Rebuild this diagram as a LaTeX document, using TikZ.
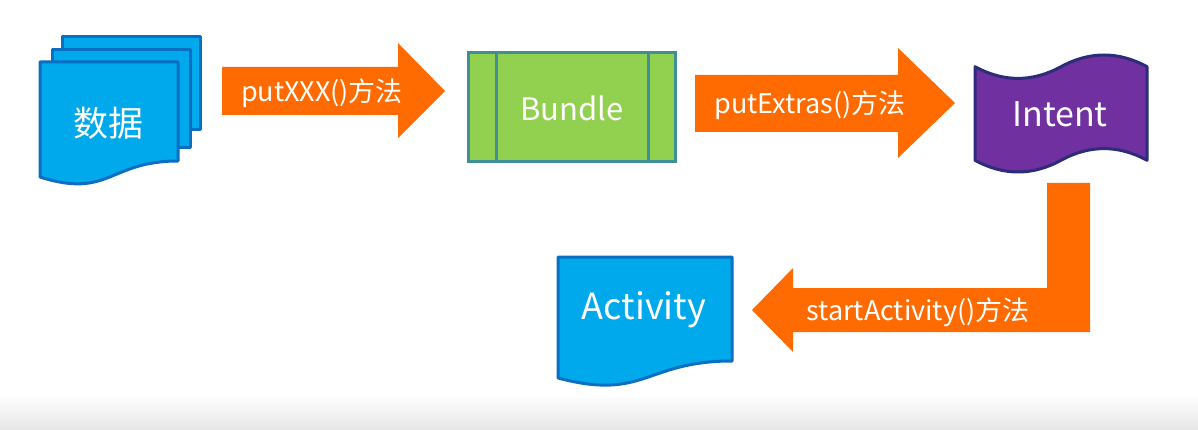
\documentclass[tikz,border=0pt]{standalone}
\usepackage{fontspec}
\setmainfont{Noto Sans CJK SC}
\begin{document}
\definecolor{bluefill}{HTML}{00A9EC}
\definecolor{blueline}{HTML}{0A6FC2}
\definecolor{greenfill}{HTML}{92D050}
\definecolor{greenline}{HTML}{3E8F97}
\definecolor{purplefill}{HTML}{7030A0}
\definecolor{purpleline}{HTML}{2B2C7A}
\definecolor{orangeA}{HTML}{FF6B00}
\definecolor{bggray}{HTML}{E6E6E6}
\begin{tikzpicture}[x=1pt,y=-1pt,
  docshape/.style={fill=bluefill,draw=blueline,line width=3pt,line join=round},
  blockarrow/.style={fill=orangeA,draw=none},
  shapetext/.style={text=white,inner sep=0pt},
  arrowtext/.style={text=white,inner sep=0pt,font=\fontsize{27}{30}\selectfont}]
\useasboundingbox (0,0) rectangle (1198,430);
\fill[white] (0,0) rectangle (1198,430);
\shade[top color=white,bottom color=bggray] (0,395) rectangle (1198,430);

% --- data: multi-document
\draw[docshape] (62,37) rectangle (200,130);
\draw[docshape] (52,50) rectangle (190,148);
\draw[docshape] (40,62) -- (178,62) -- (178,161)
  .. controls (109,161) and (109,199) .. (40,177) -- cycle;
\node[shapetext,font=\fontsize{35}{38}\selectfont] (data) at (108,123) {数据};

% --- Bundle
\draw[fill=greenfill,draw=greenline,line width=3pt] (468,53) rectangle (675,162);
\draw[greenline,line width=3pt] (496,53) -- (496,162) (648,53) -- (648,162);
\node[shapetext,font=\fontsize{31}{34}\selectfont] (bundle) at (572,108) {Bundle};

% --- Intent: punched tape
\draw[fill=purplefill,draw=purpleline,line width=3pt,line join=round]
  (975,66.7) .. controls (1003.7,82.3) and (1032.3,82.3) .. (1061,66.7)
  .. controls (1089.7,51.1) and (1118.3,51.1) .. (1147,66.7)
  -- (1147,160.3)
  .. controls (1118.3,144.7) and (1089.7,144.7) .. (1061,160.3)
  .. controls (1032.3,175.9) and (1003.7,175.9) .. (975,160.3) -- cycle;
\node[shapetext,font=\fontsize{34}{38}\selectfont] (intent) at (1060,114) {Intent};

% --- Activity
\draw[docshape] (558,257) -- (732,257) -- (732,361)
  .. controls (645,361) and (645,401) .. (558,378) -- cycle;
\node[shapetext,font=\fontsize{36}{40}\selectfont] (activity) at (644,310) {Activity};

% --- block arrows
\fill[blockarrow] (222,67) -- (398,67) -- (398,43) -- (445,91) -- (398,138) -- (398,115) -- (222,115) -- cycle;
\node[arrowtext] (l1) at (322,93) {putXXX()方法};

\fill[blockarrow] (695,75) -- (898,75) -- (898,48) -- (955,103) -- (898,158) -- (898,132) -- (695,132) -- cycle;
\node[arrowtext] (l2) at (810,105) {putExtras()方法};

\fill[blockarrow] (1047,183) -- (1090,183) -- (1090,332) -- (793,332) -- (793,352)
  -- (752,310) -- (793,268) -- (793,288) -- (1047,288) -- cycle;
\node[arrowtext] (l3) at (918,312) {startActivity()方法};
\end{tikzpicture}
\end{document}
